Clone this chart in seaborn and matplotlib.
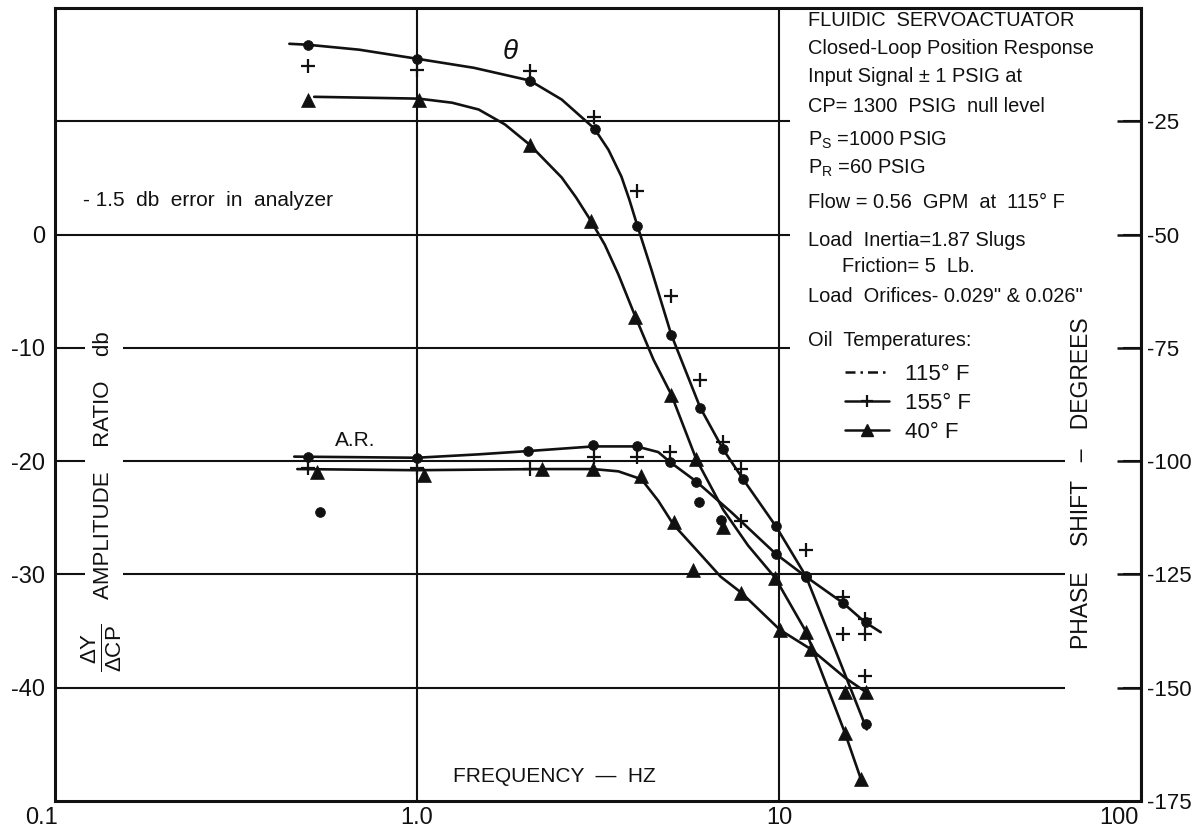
import matplotlib
matplotlib.use("Agg")
import matplotlib.pyplot as plt
import matplotlib.transforms as mtransforms
import seaborn as sns
from matplotlib.lines import Line2D
from matplotlib.patches import Rectangle

# ---------------- data ----------------
freq_ticks = [0.1, 1.0, 10, 100]
freq_tick_labels = ["0.1", "1.0", "10", "100"]
db_ticks = [-40, -30, -20, -10, 0, 10]
db_tick_labels = ["-40", "-30", "-20", "-10", "0", ""]
phase_ticks = [-175, -150, -125, -100, -75, -50, -25]
phase_tick_labels = ["-175", "-150", "-125", "-100", "-75", "-50", "-25"]

# phase shift (degrees) -- 115 F (dots)
ph115_f = [0.5, 1.0, 2.05, 3.1, 4.06, 5.04, 6.06, 7.0, 7.96, 9.8, 11.9, 17.4]
ph115_v = [-8.1, -11.2, -16.0, -26.6, -48.0, -72.1, -88.2, -97.4, -104.0, -114.4, -125.4, -158.1]
# faired phase curve 115 F
ph115_curve_f = [0.444, 0.498, 0.692, 1.0, 1.436, 2.048, 2.51, 3.09, 3.38, 3.67, 3.86, 4.06,
                 4.44, 5.04, 6.06, 7.01, 7.96, 9.81, 11.87, 14.36, 17.48]
ph115_curve_v = [-7.9, -8.1, -9.2, -11.2, -13.2, -16.0, -20.2, -26.6, -31.3, -37.2, -42.3,
                 -48.0, -57.7, -72.1, -88.2, -97.4, -104.0, -114.4, -125.4, -142.0, -159.2]

# phase shift -- 155 F (plus)
ph155_f = [0.5, 1.0, 2.05, 3.09, 4.06, 5.04, 6.06, 7.01, 7.86, 11.87, 15.0, 17.26]
ph155_v = [-12.9, -13.6, -14.0, -24.0, -40.3, -63.5, -82.0, -95.7, -101.8, -119.5, -129.9, -134.9]

# phase shift -- 40 F (triangles)
ph40_f = [0.5, 1.01, 2.05, 3.03, 4.01, 5.04, 5.91, 7.01, 9.75, 11.87, 15.2, 16.83]
ph40_v = [-20.4, -20.2, -30.2, -47.1, -68.1, -85.3, -99.6, -114.6, -125.7, -137.6, -159.9, -170.2]
ph40_curve_f = [0.52, 1.01, 1.25, 1.48, 1.75, 2.05, 2.51, 2.75, 3.03, 3.30, 3.60, 4.01, 4.50,
                5.04, 5.91, 7.01, 8.21, 9.75, 11.87, 15.2, 17.03]
ph40_curve_v = [-19.6, -20.0, -20.9, -22.4, -25.7, -30.2, -37.4, -41.8, -47.1, -52.2, -58.8,
                -68.1, -77.6, -85.3, -99.6, -110.7, -118.6, -125.7, -137.6, -159.9, -171.3]

# amplitude ratio (dB) -- 115 F (dots)
ar115_f = [0.5, 1.0, 2.03, 3.07, 4.04, 5.01, 5.91, 6.92, 9.81, 11.87, 15.0, 17.4]
ar115_v = [-19.6, -19.7, -19.1, -18.6, -18.7, -20.1, -21.8, -25.2, -28.2, -30.2, -32.5, -34.2]
ar115_curve_f = [0.458, 1.0, 1.48, 2.05, 3.07, 4.04, 4.64, 5.01, 5.91, 7.38, 9.81, 11.87,
                 15.0, 17.26, 19.1]
ar115_curve_v = [-19.6, -19.7, -19.4, -19.1, -18.7, -18.7, -19.2, -20.1, -21.8, -24.5, -28.2,
                 -30.2, -32.5, -34.2, -35.1]
ar115_stray_f = [0.54, 6.0]
ar115_stray_v = [-24.5, -23.6]

# amplitude ratio -- 155 F (plus)
ar155_f = [0.5, 1.0, 2.05, 3.09, 4.04, 5.01, 7.86, 15.0, 17.26]
ar155_v = [-20.6, -20.6, -20.7, -19.6, -19.6, -19.2, -25.3, -35.3, -35.3]
ar155_stray_f = [17.26]
ar155_stray_v = [-39.0]

# amplitude ratio -- 40 F (triangles)
ar40_f = [0.53, 1.045, 2.21, 3.07, 4.17, 5.14, 5.80, 7.86, 10.07, 12.25, 15.2, 17.4]
ar40_v = [-21.0, -21.2, -20.7, -20.7, -21.3, -25.4, -29.6, -31.6, -34.9, -36.6, -40.4, -40.4]
ar40_curve_f = [0.467, 1.0, 2.17, 3.07, 3.60, 4.17, 4.64, 5.11, 5.98, 6.90, 7.86, 10.07,
                12.25, 15.2, 17.59]
ar40_curve_v = [-20.7, -20.8, -20.7, -20.7, -20.9, -21.6, -23.5, -25.6, -28.0, -30.2, -31.6,
                -34.9, -36.6, -39.1, -40.5]

legend_labels = ["115° F", "155° F", "40° F"]

# ---------------- styling ----------------
sns.set_theme(style="white")
FONT = ["Liberation Sans", "DejaVu Sans"]
plt.rcParams["font.family"] = FONT
plt.rcParams["mathtext.fontset"] = "custom"
plt.rcParams["mathtext.rm"] = "Liberation Sans"
plt.rcParams["mathtext.it"] = "Liberation Sans:italic"
plt.rcParams["mathtext.bf"] = "Liberation Sans:bold"
plt.rcParams["axes.edgecolor"] = "black"
INK = "#111111"

fig = plt.figure(figsize=(11.96, 8.34), dpi=100)
fig.patch.set_facecolor("white")
L, R, T, B = 55, 1141, 8, 801
W, H = 1196, 834
ax = fig.add_axes([L / W, (H - B) / H, (R - L) / W, (B - T) / H])


def P(px, py):
    """pixel position in the reference -> axes fraction"""
    return (px - L) / (R - L), (B - py) / (B - T)


ax.set_xscale("log")
ax.set_xlim(0.1, 100)
ax.set_ylim(-50, 20)
ax.set_axisbelow(True)
for s in ax.spines.values():
    s.set_linewidth(2.2)
    s.set_color(INK)

ax2 = ax.twinx()
ax2.set_ylim(-175, 0)
for s in ax2.spines.values():
    s.set_visible(False)

# white areas that interrupt the grid (text block and right label strip)
x0, y0 = P(790, 448)
ax.add_patch(Rectangle((x0, y0), P(1123, 0)[0] - x0, 1 - y0, transform=ax.transAxes,
                       facecolor="white", edgecolor="none", zorder=1))
xs0, _ = P(1065, 0)
ax.add_patch(Rectangle((xs0, 0.003), P(1123, 0)[0] - xs0, 0.994, transform=ax.transAxes,
                       facecolor="white", edgecolor="none", zorder=1))

LW = 1.9
line_kw = dict(color=INK, lw=LW, estimator=None, sort=False, legend=False, zorder=4)

# curves
sns.lineplot(x=ph115_curve_f, y=ph115_curve_v, ax=ax2, **line_kw)
sns.lineplot(x=ph40_curve_f, y=ph40_curve_v, ax=ax2, **line_kw)
sns.lineplot(x=ar115_curve_f, y=ar115_curve_v, ax=ax, **line_kw)
sns.lineplot(x=ar40_curve_f, y=ar40_curve_v, ax=ax, **line_kw)

# markers
dot_kw = dict(marker="o", s=50, color=INK, edgecolor=INK, linewidth=0.5, legend=False, zorder=5)
plus_kw = dict(marker="+", s=90, color=INK, linewidth=1.6, legend=False, zorder=5)
tri_kw = dict(marker="^", s=100, color=INK, edgecolor=INK, linewidth=0.5, legend=False, zorder=5)

sns.scatterplot(x=ph115_f, y=ph115_v, ax=ax2, **dot_kw)
sns.scatterplot(x=ph155_f, y=ph155_v, ax=ax2, **plus_kw)
sns.scatterplot(x=ph40_f, y=ph40_v, ax=ax2, **tri_kw)
sns.scatterplot(x=ar115_f, y=ar115_v, ax=ax, **dot_kw)
sns.scatterplot(x=ar115_stray_f, y=ar115_stray_v, ax=ax, **dot_kw)
sns.scatterplot(x=ar155_f, y=ar155_v, ax=ax, **plus_kw)
sns.scatterplot(x=ar155_stray_f, y=ar155_stray_v, ax=ax, **plus_kw)
sns.scatterplot(x=ar40_f, y=ar40_v, ax=ax, **tri_kw)

# axes, ticks, grid (after seaborn so nothing is reset)
ax.set_xlabel("")
ax.set_ylabel("")
ax2.set_ylabel("")
ax.set_xlim(0.1, 100)
ax.set_ylim(-50, 20)
ax2.set_ylim(-175, 0)
ax.minorticks_off()
ax.set_xticks(freq_ticks)
ax.set_xticklabels(freq_tick_labels)
ax.set_yticks(db_ticks)
ax.set_yticklabels(db_tick_labels)
ax.grid(True, which="major", color=INK, lw=1.5)
ax.tick_params(axis="both", which="both", length=0, colors=INK)
ax.tick_params(axis="y", labelsize=17, pad=7)
ax.tick_params(axis="x", labelsize=17, pad=4)
ax2.set_yticks(phase_ticks)
ax2.set_yticklabels(phase_tick_labels)
ax2.minorticks_off()
ax2.tick_params(axis="y", direction="in", length=17, width=1.8, labelsize=16, pad=4, colors=INK)
ax2.grid(False)

# the first and last frequency labels sit left of their gridline, as in the reference
xlabels = ax.get_xticklabels()
xlabels[0].set_transform(xlabels[0].get_transform()
                         + mtransforms.ScaledTranslation(-14 / 100, 0, fig.dpi_scale_trans))
xlabels[-1].set_transform(xlabels[-1].get_transform()
                          + mtransforms.ScaledTranslation(-22 / 100, 0, fig.dpi_scale_trans))


def txt(px, py, s, **kw):
    kw.setdefault("fontsize", 14.4)
    kw.setdefault("color", INK)
    kw.setdefault("zorder", 6)
    ax.text(*P(px, py), s, transform=ax.transAxes, **kw)


# text block
bx = 808
txt(bx, 20, "FLUIDIC  SERVOACTUATOR", va="center")
txt(bx, 49, "Closed-Loop Position Response", va="center")
txt(bx, 76, "Input Signal ± 1 PSIG at", va="center")
txt(bx, 106, "CP= 1300  PSIG  null level", va="center")
txt(bx, 140, r"P$_\mathrm{S}$ =1000 PSIG", va="center")
txt(bx, 168, r"P$_\mathrm{R}$ =60 PSIG", va="center")
txt(bx, 202, "Flow = 0.56  GPM  at  115° F", va="center")
txt(bx, 241, "Load  Inertia=1.87 Slugs", va="center")
txt(842, 267, "Friction= 5  Lb.", va="center")
txt(bx, 297, "Load  Orifices- 0.029\" & 0.026\"", va="center")
txt(bx, 340, "Oil  Temperatures:", va="center")

handles = [
    Line2D([], [], color=INK, lw=1.8, ls=(0, (4, 2, 1, 2))),
    Line2D([], [], color=INK, lw=1.8, marker="+", ms=9, mew=1.6),
    Line2D([], [], color=INK, lw=1.8, marker="^", ms=9),
]
leg = ax.legend(handles, legend_labels, loc="upper left", bbox_to_anchor=P(845, 364),
                bbox_transform=ax.transAxes, frameon=False, fontsize=16, handlelength=2.0,
                handletextpad=0.7, labelspacing=0.35, borderaxespad=0, borderpad=0,
                numpoints=1)
leg.set_zorder(6)
for t in leg.get_texts():
    t.set_color(INK)

# annotations
txt(83, 201, "- 1.5  db  error  in  analyzer", va="center", ha="left", fontsize=15)
txt(355, 440, "A.R.", va="center", ha="center", fontsize=15)
txt(510, 52, "θ", va="center", ha="center", fontsize=20, style="italic")
txt(554, 776, "FREQUENCY  —  HZ", va="center", ha="center", fontsize=15)
txt(104, 465, "AMPLITUDE    RATIO    db", rotation=90, va="center", ha="center", fontsize=16,
    bbox=dict(facecolor="white", edgecolor="none", pad=6), zorder=2)
txt(102, 648, r"$\frac{\mathrm{\Delta Y}}{\mathrm{\Delta CP}}$", rotation=90, va="center",
    ha="center", fontsize=23)
txt(1082, 483, "PHASE    SHIFT   –   DEGREES", rotation=90, va="center", ha="center", fontsize=16.5)

fig.savefig("out.png", dpi=100, facecolor="white")
